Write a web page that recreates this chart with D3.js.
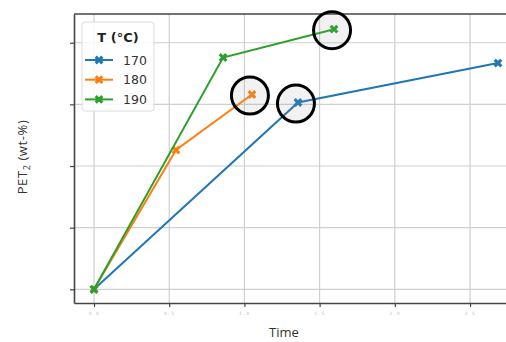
<!DOCTYPE html>
<html>
<head>
<meta charset="utf-8">
<script src="https://cdn.jsdelivr.net/npm/d3@7"></script>
<style>
  html, body { margin: 0; padding: 0; background: #fff; }
  svg { display: block; }
</style>
</head>
<body>
<svg id="chart" width="506" height="342"></svg>
<script>
// Reaction time (h) and PET2 yield (wt-%) per temperature
const temps = ["170", "180", "190"];
const colors = ["#1f77b4", "#ff7f0e", "#2ca02c"];
const time170 = [0, 1.356, 2.686];
const pet170 = [0, 30.3, 36.7];
const time180 = [0, 0.545, 1.05];
const pet180 = [0, 22.6, 31.6];
const time190 = [0, 0.858, 1.596];
const pet190 = [0, 37.6, 42.2];
// highlighted point per series (index into each series)
const highlighted = [1, 2, 2];
const xTicks = [0, 0.5, 1.0, 1.5, 2.0, 2.5];
const xTickLabels = ["0.0", "0.5", "1.0", "1.5", "2.0", "2.5"];
const yTicks = [0, 10, 20, 30, 40];

const series = [
  { name: temps[0], color: colors[0], t: time170, v: pet170 },
  { name: temps[1], color: colors[1], t: time180, v: pet180 },
  { name: temps[2], color: colors[2], t: time190, v: pet190 }
];

const svg = d3.select("#chart");
const plotLeft = 74, plotRight = 518, plotTop = 14, plotBottom = 303;

const x = d3.scaleLinear().domain([-0.133, 2.819]).range([plotLeft, plotRight]);
const y = d3.scaleLinear().domain([-2.22, 44.66]).range([plotBottom, plotTop]);

// grid
const grid = svg.append("g");
grid.selectAll("line.vx").data(xTicks).join("line")
  .attr("x1", d => x(d)).attr("x2", d => x(d))
  .attr("y1", plotTop).attr("y2", plotBottom)
  .attr("stroke", "#cfcfcf").attr("stroke-width", 1.2);
grid.selectAll("line.hy").data(yTicks).join("line")
  .attr("x1", plotLeft).attr("x2", plotRight)
  .attr("y1", d => y(d)).attr("y2", d => y(d))
  .attr("stroke", "#cfcfcf").attr("stroke-width", 1.2);

// axes
const xAxis = svg.append("g").attr("transform", `translate(0,${plotBottom})`)
  .call(d3.axisBottom(x).tickValues(xTicks).tickFormat((d, i) => xTickLabels[i]).tickSize(4).tickSizeOuter(0));
xAxis.select(".domain").attr("stroke", "#444").attr("stroke-width", 1.6);
xAxis.selectAll(".tick line").attr("stroke", "#444").attr("stroke-width", 1.2);
xAxis.selectAll(".tick text").attr("fill", "#bdbdbd").attr("font-size", 4.5)
  .attr("letter-spacing", 1.5).attr("font-family", "DejaVu Sans").attr("dy", "1.2em");

const yAxis = svg.append("g").attr("transform", `translate(${plotLeft},0)`)
  .call(d3.axisLeft(y).tickValues(yTicks).tickFormat("").tickSize(4).tickSizeOuter(0));
yAxis.select(".domain").attr("stroke", "#444").attr("stroke-width", 1.6);
yAxis.selectAll(".tick line").attr("stroke", "#444").attr("stroke-width", 1.2);

// top spine
svg.append("line").attr("x1", plotLeft).attr("x2", plotRight).attr("y1", plotTop).attr("y2", plotTop)
  .attr("stroke", "#444").attr("stroke-width", 1.6);

// filled "X" marker
function xMarker(L, w) {
  const pts = [[w, 0], [L, L - w], [L - w, L], [0, w], [-(L - w), L], [-L, L - w], [-w, 0],
    [-L, -(L - w)], [-(L - w), -L], [0, -w], [L - w, -L], [L, -(L - w)]];
  return "M" + pts.map(p => p.join(",")).join("L") + "Z";
}
const markerPath = xMarker(4.4, 2.2);

const line = d3.line().x(d => x(d[0])).y(d => y(d[1]));
series.forEach(s => {
  const pts = s.t.map((t, i) => [t, s.v[i]]);
  const g = svg.append("g");
  g.append("path").attr("d", line(pts)).attr("fill", "none")
    .attr("stroke", s.color).attr("stroke-width", 2);
  g.selectAll("path.m").data(pts).join("path")
    .attr("d", markerPath)
    .attr("transform", d => `translate(${x(d[0])},${y(d[1])})`)
    .attr("fill", s.color);
});

// highlight rings
series.forEach((s, k) => {
  const i = highlighted[k];
  svg.append("circle")
    .attr("cx", x(s.t[i]) - 2).attr("cy", y(s.v[i]) + 1)
    .attr("r", 18.5)
    .attr("fill", "rgba(150,150,150,0.12)")
    .attr("stroke", "#000").attr("stroke-width", 3);
});

// legend
const lg = svg.append("g").attr("transform", "translate(82,22)");
lg.append("rect").attr("width", 72).attr("height", 89).attr("rx", 3)
  .attr("fill", "rgba(255,255,255,0.85)").attr("stroke", "#dcdcdc");
lg.append("text").attr("x", 36).attr("y", 20).attr("text-anchor", "middle")
  .attr("font-family", "DejaVu Sans").attr("font-weight", "bold").attr("font-size", 13)
  .attr("fill", "#222").text("T (°C)");
series.forEach((s, i) => {
  const yy = 38 + i * 19.7;
  lg.append("line").attr("x1", 3).attr("x2", 31).attr("y1", yy).attr("y2", yy)
    .attr("stroke", s.color).attr("stroke-width", 2);
  lg.append("path").attr("d", markerPath).attr("transform", `translate(17,${yy})`).attr("fill", s.color);
  lg.append("text").attr("x", 41).attr("y", yy + 4.5)
    .attr("font-family", "DejaVu Sans").attr("font-size", 12.5).attr("fill", "#333").text(s.name);
});

// axis titles
svg.append("text").attr("x", 284).attr("y", 337).attr("text-anchor", "middle")
  .attr("font-family", "Open Sans").attr("font-size", 13).attr("fill", "#333").text("Time");
const yl = svg.append("text").attr("transform", "translate(27,157) rotate(-90)")
  .attr("text-anchor", "middle").attr("font-family", "Open Sans").attr("font-size", 13)
  .attr("letter-spacing", 0.6).attr("fill", "#333");
yl.append("tspan").text("PET");
yl.append("tspan").attr("font-size", 9).attr("dy", 3).text("2");
yl.append("tspan").attr("dy", -3).text(" (wt-%)");

// faint offset text at top right
svg.append("text").attr("x", 487).attr("y", 12).attr("font-family", "DejaVu Sans")
  .attr("font-size", 4.5).attr("fill", "#c4c4c4").attr("letter-spacing", 5).text("..");
</script>
</body>
</html>
